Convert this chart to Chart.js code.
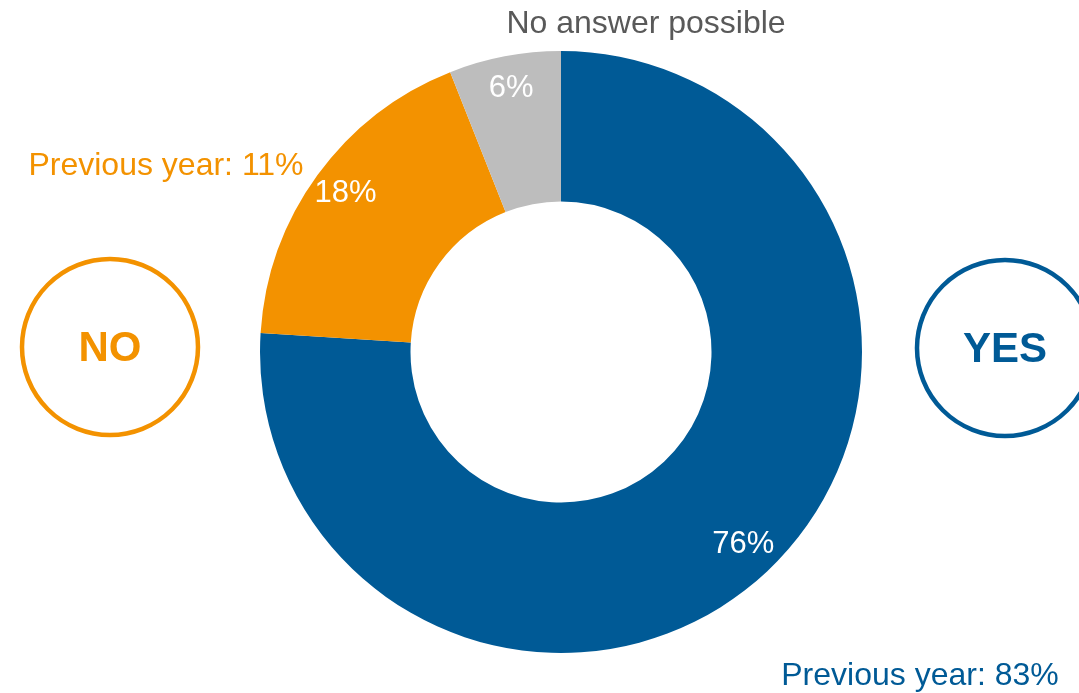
<!DOCTYPE html>
<html>
<head>
<meta charset="utf-8">
<title>Survey result</title>
<script src="https://cdn.jsdelivr.net/npm/chart.js@4/dist/chart.umd.min.js"></script>
<style>
  html, body { margin: 0; padding: 0; background: #fff; }
  #wrap { position: relative; width: 1079px; height: 693px; }
</style>
</head>
<body>
<div id="wrap"><canvas id="answers"></canvas></div>
<script>
// Survey answers (share of respondents, %)
const categories = ['YES', 'NO', 'No answer possible'];
const shares = [76, 18, 6];
const previousYear = [83, 11, null];
const sliceColors = ['#005a96', '#f39200', '#bdbdbd'];

const FONT = '"Liberation Sans", Arial, sans-serif';

// Draws percentages on the slices plus the side captions and YES/NO badges
const annotations = {
    id: 'annotations',
    afterDatasetsDraw(chart) {
        const ctx = chart.ctx;
        const arcs = chart.getDatasetMeta(0).data;
        ctx.save();
        ctx.textAlign = 'center';
        ctx.textBaseline = 'middle';

        // slice percentages near the outer rim
        ctx.font = '31px ' + FONT;
        ctx.fillStyle = '#ffffff';
        arcs.forEach((arc, i) => {
            const mid = (arc.startAngle + arc.endAngle) / 2;
            const r = arc.outerRadius * 0.885;
            ctx.fillText(shares[i] + '%', arc.x + Math.cos(mid) * r, arc.y + Math.sin(mid) * r - 2);
        });

        // captions
        ctx.font = '32px ' + FONT;
        ctx.fillStyle = '#595959';
        ctx.fillText(categories[2], 646, 24);
        ctx.fillStyle = sliceColors[1];
        ctx.fillText('Previous year: ' + previousYear[1] + '%', 166, 166);
        ctx.fillStyle = sliceColors[0];
        ctx.fillText('Previous year: ' + previousYear[0] + '%', 920, 676);

        // badges
        const badge = (label, color, cx, cy) => {
            ctx.beginPath();
            ctx.arc(cx, cy, 88, 0, Math.PI * 2);
            ctx.lineWidth = 4.5;
            ctx.strokeStyle = color;
            ctx.stroke();
            ctx.font = 'bold 42px ' + FONT;
            ctx.fillStyle = color;
            ctx.fillText(label, cx, cy + 2);
        };
        badge(categories[1], sliceColors[1], 110, 347);
        badge(categories[0], sliceColors[0], 1005, 348);
        ctx.restore();
    }
};

new Chart(document.getElementById('answers'), {
    type: 'doughnut',
    data: {
        labels: categories,
        datasets: [{
            data: shares,
            backgroundColor: sliceColors,
            borderWidth: 0
        }]
    },
    options: {
        responsive: true,
        maintainAspectRatio: false,
        animation: false,
        cutout: '50%',
        layout: {
            padding: { left: 260, right: 217, top: 51, bottom: 40 }
        },
        plugins: {
            legend: { display: false },
            tooltip: { enabled: false }
        }
    },
    plugins: [annotations]
});
</script>
</body>
</html>
